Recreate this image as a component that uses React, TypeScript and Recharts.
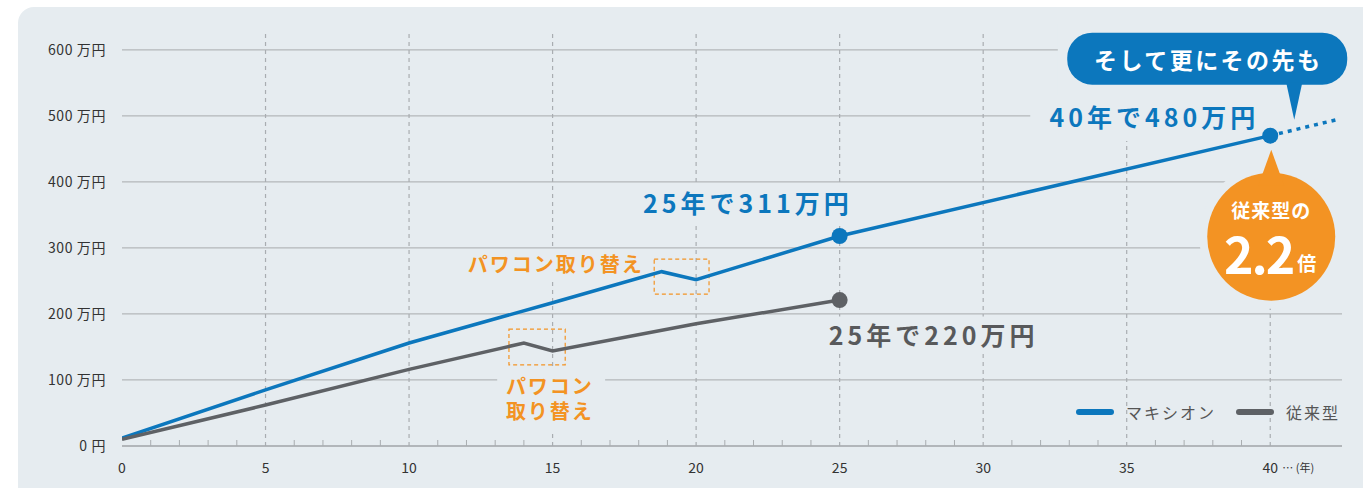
import React from 'react';
import {
  LineChart,
  Line,
  XAxis,
  YAxis,
  CartesianGrid,
  ReferenceArea,
  ReferenceDot,
  ReferenceLine,
} from 'recharts';

// マキシオン（ブルー）と従来型（グレー）の累積メリット推移
const maxiYears = [0, 5, 10, 15, 18.8, 20, 25, 40];
const maxiValues = [12, 85, 156, 217, 264, 252, 318, 470];
const futureYears = [40, 42.3];
const futureValues = [470, 494];
const oldYears = [0, 5, 10, 14, 15, 20, 25];
const oldValues = [10, 62, 116, 156, 144, 185, 221];
const dotYears = [25, 40];

const yearTicks = Array.from({ length: 41 }, (_, i) => i);
const gridYears = [5, 10, 15, 20, 25, 30, 35, 40];
const valueTicks = [0, 100, 200, 300, 400, 500, 600];

const seriesNames = ['マキシオン', '従来型'];
const maxiLabel25 = '25年で311万円';
const maxiLabel40 = '40年で480万円';
const oldLabel25 = '25年で220万円';
const futureText = 'そして更にその先も';
const ratioTop = '従来型の';
const ratioValue = '2.2';
const ratioUnit = '倍';
const replaceText = 'パワコン取り替え';

const BLUE = '#0c77bd';
const GRAY = '#5e6165';
const GRAY_TEXT = '#58595b';
const ORANGE = '#f39323';
const PANEL = '#e6ecf0';
const GRID = '#b3b7ba';
const GRID_V = '#a9adb1';
const AXIS = '#a9adb0';
const FONT = '"Noto Sans CJK JP", "Noto Sans", sans-serif';

const toRows = (xs: number[], vs: number[]) => xs.map((year, i) => ({ year, value: vs[i] }));
const maxiData = toRows(maxiYears, maxiValues);
const futureData = toRows(futureYears, futureValues);
const oldData = toRows(oldYears, oldValues);
const valueAt = (xs: number[], vs: number[], x: number) => vs[xs.indexOf(x)];

// ラベルの背景（グリッドを隠す）
const labelMasks = [
  { x1: 32.6, x2: 43.3, y1: 524, y2: 640 },
  { x1: 31.64, x2: 43.3, y1: 462, y2: 532 },
  { x1: 38.47, x2: 43.3, y1: 372, y2: 464 },
  { x1: 11.64, x2: 18.4, y1: 253, y2: 297 },
  { x1: 13.07, x2: 16.83, y1: 21, y2: 118 },
  { x1: 17.7, x2: 25.57, y1: 336, y2: 394 },
  { x1: 24.39, x2: 32.2, y1: 145, y2: 196 },
];

const replaceBoxes = [
  { x1: 13.48, x2: 15.44, y1: 123, y2: 177 },
  { x1: 18.54, x2: 20.45, y1: 230, y2: 283 },
];

const renderDot = (color: string) => (props: any) => {
  const { cx, cy, payload, index } = props;
  if (!dotYears.includes(payload.year)) return <g key={`d${index}`} />;
  return <circle key={`d${index}`} cx={cx} cy={cy} r={8} fill={color} />;
};

function YearTick(props: any) {
  const { x, y, payload } = props;
  const v = payload.value;
  if (v % 5 !== 0) {
    return <line x1={x} x2={x} y1={y - 6} y2={y} stroke={AXIS} strokeWidth={1} />;
  }
  if (v === 40) {
    return (
      <g>
        <text x={x} y={y + 26.5} textAnchor="middle" fontSize={14} fill="#333">40</text>
        <text x={x + 12} y={y + 26} fontSize={11} fill="#333">… (年)</text>
      </g>
    );
  }
  return (
    <text x={x} y={y + 26.5} textAnchor="middle" fontSize={14} fill="#333">{v}</text>
  );
}

function ValueTick(props: any) {
  const { x, y, payload } = props;
  const v = payload.value;
  return (
    <text x={x} y={y} dy={5} textAnchor="end" fontSize={14} letterSpacing={0.6} fill="#333">
      {v === 0 ? '0 円' : `${v} 万円`}
    </text>
  );
}

const bigText = { fontSize: 25, fontWeight: 700, letterSpacing: 4, fontFamily: FONT };

function Maxi25Label({ cx, cy }: any) {
  return (
    <text x={cx + 13} y={cy - 23} textAnchor="end" fill={BLUE} {...bigText}>{maxiLabel25}</text>
  );
}

function Old25Label({ cx, cy }: any) {
  return (
    <text x={cx - 11} y={cy + 45} fill={GRAY_TEXT} {...bigText}>{oldLabel25}</text>
  );
}

function Future40Callout({ cx, cy }: any) {
  const oy = cy + 101;
  return (
    <g>
      <text x={cx - 11} y={cy - 9} textAnchor="end" fill={BLUE} {...bigText}>{maxiLabel40}</text>
      <rect x={cx - 203} y={cy - 103} width={280} height={52} rx={25} fill={BLUE} />
      <polygon points={`${cx + 16},${cy - 53} ${cx + 32},${cy - 53} ${cx + 24},${cy - 16}`} fill={BLUE} />
      <text x={cx - 62} y={cy - 77} textAnchor="middle" dominantBaseline="central" fill="#fff"
        fontSize={23} fontWeight={700} letterSpacing={2.5} fontFamily={FONT}>{futureText}</text>
      <circle cx={cx + 1} cy={oy} r={72} fill={PANEL} />
      <circle cx={cx + 1} cy={oy} r={64} fill={ORANGE} />
      <polygon points={`${cx - 12},${cy + 50} ${cx + 14},${cy + 50} ${cx + 1},${cy + 14}`} fill={ORANGE} />
      <text fill="#fff" fontWeight={700} fontFamily={FONT}>
        <tspan x={cx + 1} y={cy + 82} textAnchor="middle" fontSize={19} letterSpacing={1}>{ratioTop}</tspan>
        <tspan x={cx + 23} y={cy + 138} textAnchor="end" fontSize={50} letterSpacing={-2}>{ratioValue}</tspan>
        <tspan x={cx + 27} y={cy + 135} fontSize={19}>{ratioUnit}</tspan>
      </text>
    </g>
  );
}

const orangeText = { fontSize: 20, fontWeight: 700, letterSpacing: 2, fill: ORANGE, fontFamily: FONT };

function ReplaceLabelUpper({ cx, cy }: any) {
  return (
    <text x={cx - 18} y={cy - 8} textAnchor="end" dominantBaseline="central" {...orangeText}>{replaceText}</text>
  );
}

function ReplaceLabelLower({ cx, cy }: any) {
  return (
    <text {...orangeText}>
      <tspan x={cx - 18} y={cy + 51}>{replaceText.slice(0, 4)}</tspan>
      <tspan x={cx - 18} y={cy + 76}>{replaceText.slice(4)}</tspan>
    </text>
  );
}

const legendItems = [
  { name: seriesNames[0], color: BLUE },
  { name: seriesNames[1], color: GRAY },
];

export default function App() {
  return (
    <div style={{ position: 'absolute', left: 0, top: 0, width: 1363, height: 488, overflow: 'hidden', background: '#fff', fontFamily: FONT }}>
      <div style={{ position: 'absolute', left: 18, top: 7, width: 1400, height: 520, borderRadius: 16, background: PANEL }} />
      <div style={{ position: 'absolute', left: 0, top: 0 }}>
        <LineChart width={1363} height={488} margin={{ top: 30, right: 21, bottom: 12, left: 22 }}>
          <CartesianGrid vertical={false} stroke={GRID} strokeWidth={1.2} syncWithTicks />
          <XAxis
            type="number"
            dataKey="year"
            domain={[0, 42.5]}
            ticks={yearTicks}
            interval={0}
            tickSize={0}
            tickMargin={0}
            tickLine={false}
            axisLine={{ stroke: AXIS, strokeWidth: 1.5 }}
            tick={(p: any) => <YearTick {...p} />}
            height={30}
            allowDataOverflow
          />
          <YAxis
            type="number"
            domain={[0, 630]}
            ticks={valueTicks}
            interval={0}
            width={100}
            axisLine={false}
            tickLine={false}
            tickSize={0}
            tickMargin={16}
            tick={(p: any) => <ValueTick {...p} />}
            allowDataOverflow
          />
          {gridYears.map((v) => (
            <ReferenceLine key={`g${v}`} x={v} stroke={GRID_V} strokeWidth={1.2} strokeDasharray="4 4" zIndex={-50} />
          ))}
          {labelMasks.map((m, i) => (
            <ReferenceArea key={`m${i}`} {...m} fill={PANEL} fillOpacity={1} stroke="none" ifOverflow="visible" zIndex={50} />
          ))}
          <Line data={futureData} dataKey="value" stroke={BLUE} strokeWidth={3.5} strokeDasharray="4 5"
            dot={false} activeDot={false} isAnimationActive={false} />
          <Line data={maxiData} dataKey="value" name={seriesNames[0]} stroke={BLUE} strokeWidth={3.5}
            dot={renderDot(BLUE)} activeDot={false} isAnimationActive={false} />
          <Line data={oldData} dataKey="value" name={seriesNames[1]} stroke={GRAY} strokeWidth={3.5}
            dot={renderDot(GRAY)} activeDot={false} isAnimationActive={false} />
          {replaceBoxes.map((b, i) => (
            <ReferenceArea key={`b${i}`} {...b} fill="none" stroke={ORANGE} strokeWidth={1.2} strokeDasharray="4 3" ifOverflow="visible" zIndex={60} />
          ))}
          <ReferenceDot x={25} y={valueAt(maxiYears, maxiValues, 25)} ifOverflow="visible" shape={(p: any) => <Maxi25Label {...p} />} />
          <ReferenceDot x={25} y={valueAt(oldYears, oldValues, 25)} ifOverflow="visible" shape={(p: any) => <Old25Label {...p} />} />
          <ReferenceDot x={40} y={valueAt(maxiYears, maxiValues, 40)} ifOverflow="visible" shape={(p: any) => <Future40Callout {...p} />} />
          <ReferenceDot x={18.8} y={valueAt(maxiYears, maxiValues, 18.8)} ifOverflow="visible" shape={(p: any) => <ReplaceLabelUpper {...p} />} />
          <ReferenceDot x={14} y={valueAt(oldYears, oldValues, 14)} ifOverflow="visible" shape={(p: any) => <ReplaceLabelLower {...p} />} />
        </LineChart>
      </div>
      <div style={{ position: 'absolute', left: 1076, top: 402, height: 20, display: 'flex', alignItems: 'center', fontSize: 16, letterSpacing: 2, color: '#555' }}>
        {legendItems.map((it) => (
          <div key={it.name} style={{ display: 'flex', alignItems: 'center', marginRight: 20 }}>
            <svg width={38} height={8}>
              <line x1={3} x2={35} y1={4} y2={4} stroke={it.color} strokeWidth={6} strokeLinecap="round" />
            </svg>
            <span style={{ marginLeft: 12, lineHeight: '20px' }}>{it.name}</span>
          </div>
        ))}
      </div>
    </div>
  );
}
